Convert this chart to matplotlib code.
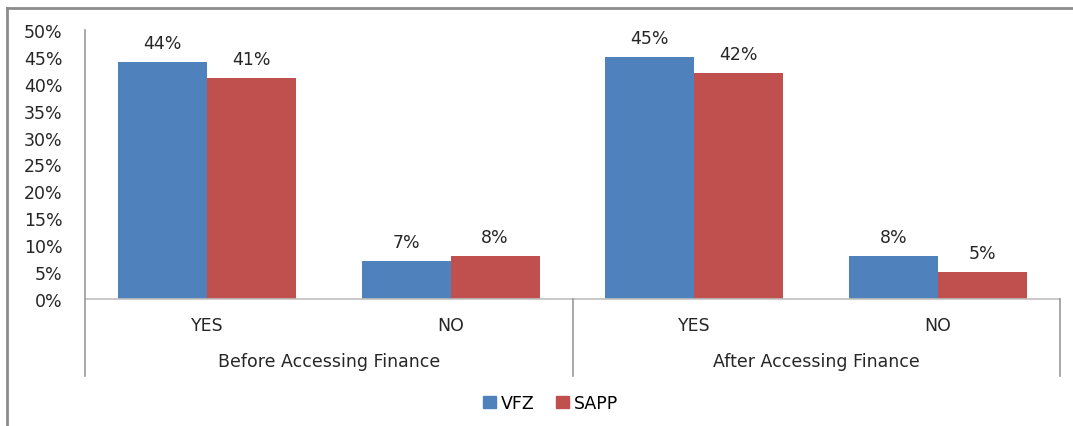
import matplotlib.pyplot as plt
import matplotlib.transforms as mtransforms
from matplotlib.lines import Line2D
from matplotlib.patches import Patch

# data
periods = ["Before Accessing Finance", "After Accessing Finance"]
answers = ["YES", "NO", "YES", "NO"]
vfz = [44, 7, 45, 8]
sapp = [41, 8, 42, 5]

BLUE = "#4F81BD"
RED = "#C0504D"
GRID = "#BFBFBF"
TEXT = "#262626"
FS = 12.5

plt.rcParams["font.family"] = ["DejaVu Sans"]

fig = plt.figure(figsize=(10.73, 4.27), dpi=100)
ax = fig.add_axes([85 / 1073, 127 / 427, 975 / 1073, 269 / 427])

x = list(range(len(answers)))
w = 0.365
ax.bar([i - w / 2 for i in x], vfz, width=w, color=BLUE, label="VFZ")
ax.bar([i + w / 2 for i in x], sapp, width=w, color=RED, label="SAPP")

for i in x:
    ax.text(i - w / 2, vfz[i] + 1.9, f"{vfz[i]}%", ha="center", va="bottom",
            fontsize=FS, color=TEXT)
    ax.text(i + w / 2, sapp[i] + 1.9, f"{sapp[i]}%", ha="center", va="bottom",
            fontsize=FS, color=TEXT)

ax.set_xlim(-0.5, len(answers) - 0.5)
ax.set_ylim(0, 50)
ax.set_yticks(range(0, 51, 5))
ax.set_yticklabels([f"{v}%" for v in range(0, 51, 5)], fontsize=FS, color=TEXT)
ax.tick_params(axis="y", length=0, pad=16)
ax.set_xticks([])
for s in ax.spines.values():
    s.set_visible(False)

# axis lines and category separators
trans = mtransforms.blended_transform_factory(ax.transData, ax.transAxes)
ax.plot([-0.5, 3.5], [0, 0], color=GRID, lw=1.2, transform=trans, clip_on=False)
ax.plot([-0.5, -0.5], [-0.286, 1.0], color="#9A9A9A", lw=1.2, transform=trans, clip_on=False)
ax.plot([1.5, 1.5], [-0.286, 0], color="#9A9A9A", lw=1.2, transform=trans, clip_on=False)
ax.plot([3.5, 3.5], [-0.286, 0], color="#9A9A9A", lw=1.2, transform=trans, clip_on=False)

# category labels
for i, lab in enumerate(answers):
    ax.text(i, -0.095, lab, ha="center", va="center", fontsize=FS,
            color=TEXT, transform=trans)
for j, per in enumerate(periods):
    ax.text(2 * j + 0.5, -0.23, per, ha="center", va="center", fontsize=FS,
            color=TEXT, transform=trans)

handles = [Patch(color=BLUE, label="VFZ"), Patch(color=RED, label="SAPP")]
fig.legend(handles=handles, loc="center", bbox_to_anchor=(0.513, 0.054), ncol=2,
           frameon=False, fontsize=FS, handlelength=0.75, handleheight=0.75,
           handletextpad=0.3, columnspacing=1.2)

# outer frame (only top and left edges fall inside the picture)
fig.add_artist(Line2D([7 / 1073, 7 / 1073], [0, 1 - 9 / 427], color="#8C8C8C", lw=2,
                      transform=fig.transFigure))
fig.add_artist(Line2D([7 / 1073, 1], [1 - 9 / 427, 1 - 9 / 427], color="#8C8C8C", lw=2,
                      transform=fig.transFigure))

fig.savefig("out.png", dpi=100)
